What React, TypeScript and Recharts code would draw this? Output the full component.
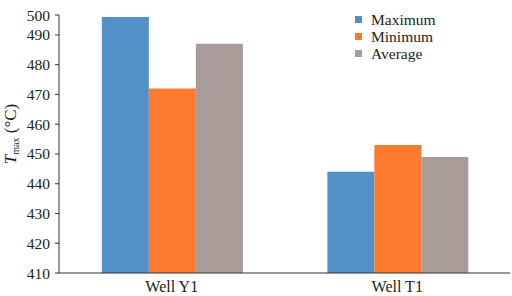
import React from 'react';
import { BarChart, Bar, XAxis, YAxis } from 'recharts';

const wells = ['Well Y1', 'Well T1'];
const maximum = [496, 444];
const minimum = [472, 453];
const average = [487, 449];

// the top tick in the source sits a bit closer than 10 units to 490
const yTicks = [410, 420, 430, 440, 450, 460, 470, 480, 490, 496.7];
const yTickLabels = ['410', '420', '430', '440', '450', '460', '470', '480', '490', '500'];

const series = [
    { key: 'Maximum', values: maximum, color: '#5290c8' },
    { key: 'Minimum', values: minimum, color: '#fd7a2f' },
    { key: 'Average', values: average, color: '#a89c99' },
];

const data = wells.map((w, i) => {
    const row: Record<string, string | number> = { name: w };
    series.forEach((s) => { row[s.key] = s.values[i]; });
    return row;
});

const font = 'Liberation Serif';

const YLabel = () => (
    <text
        x={16}
        y={134}
        transform="rotate(-90 16 134)"
        textAnchor="middle"
        fontFamily={font}
        fontSize={17}
        fill="#222"
    >
        <tspan fontStyle="italic">T</tspan>
        <tspan fontSize={10} dy={3}>max</tspan>
        <tspan dy={-3}> (°C)</tspan>
    </text>
);

export default function App() {
    return (
        <div style={{ position: 'absolute', left: 0, top: 0, width: 512, height: 296, background: '#fff', fontFamily: font }}>
            <BarChart
                width={512}
                height={296}
                data={data}
                margin={{ top: 15, right: 2, bottom: 0, left: 0 }}
                barCategoryGap="19%"
                barGap={0}
                style={{ fontFamily: font }}
            >
                <XAxis
                    dataKey="name"
                    tickLine={false}
                    tickSize={6}
                    tickMargin={2}
                    height={23}
                    axisLine={{ stroke: '#333' }}
                    tick={{ fontFamily: font, fontSize: 16, fill: '#222' }}
                />
                <YAxis
                    width={59}
                    domain={[410, 496.7]}
                    ticks={yTicks}
                    interval={0}
                    allowDataOverflow
                    tickSize={4}
                    tickMargin={5}
                    axisLine={{ stroke: '#333' }}
                    tickLine={{ stroke: '#333' }}
                    tick={{ fontFamily: font, fontSize: 15.5, fill: '#222' }}
                    tickFormatter={(v: number) => yTickLabels[yTicks.indexOf(v)] ?? String(v)}
                    label={<YLabel />}
                />
                {series.map((s) => (
                    <Bar key={s.key} dataKey={s.key} fill={s.color} isAnimationActive={false} />
                ))}
            </BarChart>
            <div style={{ position: 'absolute', left: 355, top: 11, fontSize: 15.5, color: '#222', lineHeight: '17px' }}>
                {series.map((s) => (
                    <div key={s.key} style={{ display: 'flex', alignItems: 'center', height: 17 }}>
                        <span style={{ width: 7, height: 7, background: s.color, display: 'inline-block', marginRight: 9 }} />
                        <span>{s.key}</span>
                    </div>
                ))}
            </div>
        </div>
    );
}
